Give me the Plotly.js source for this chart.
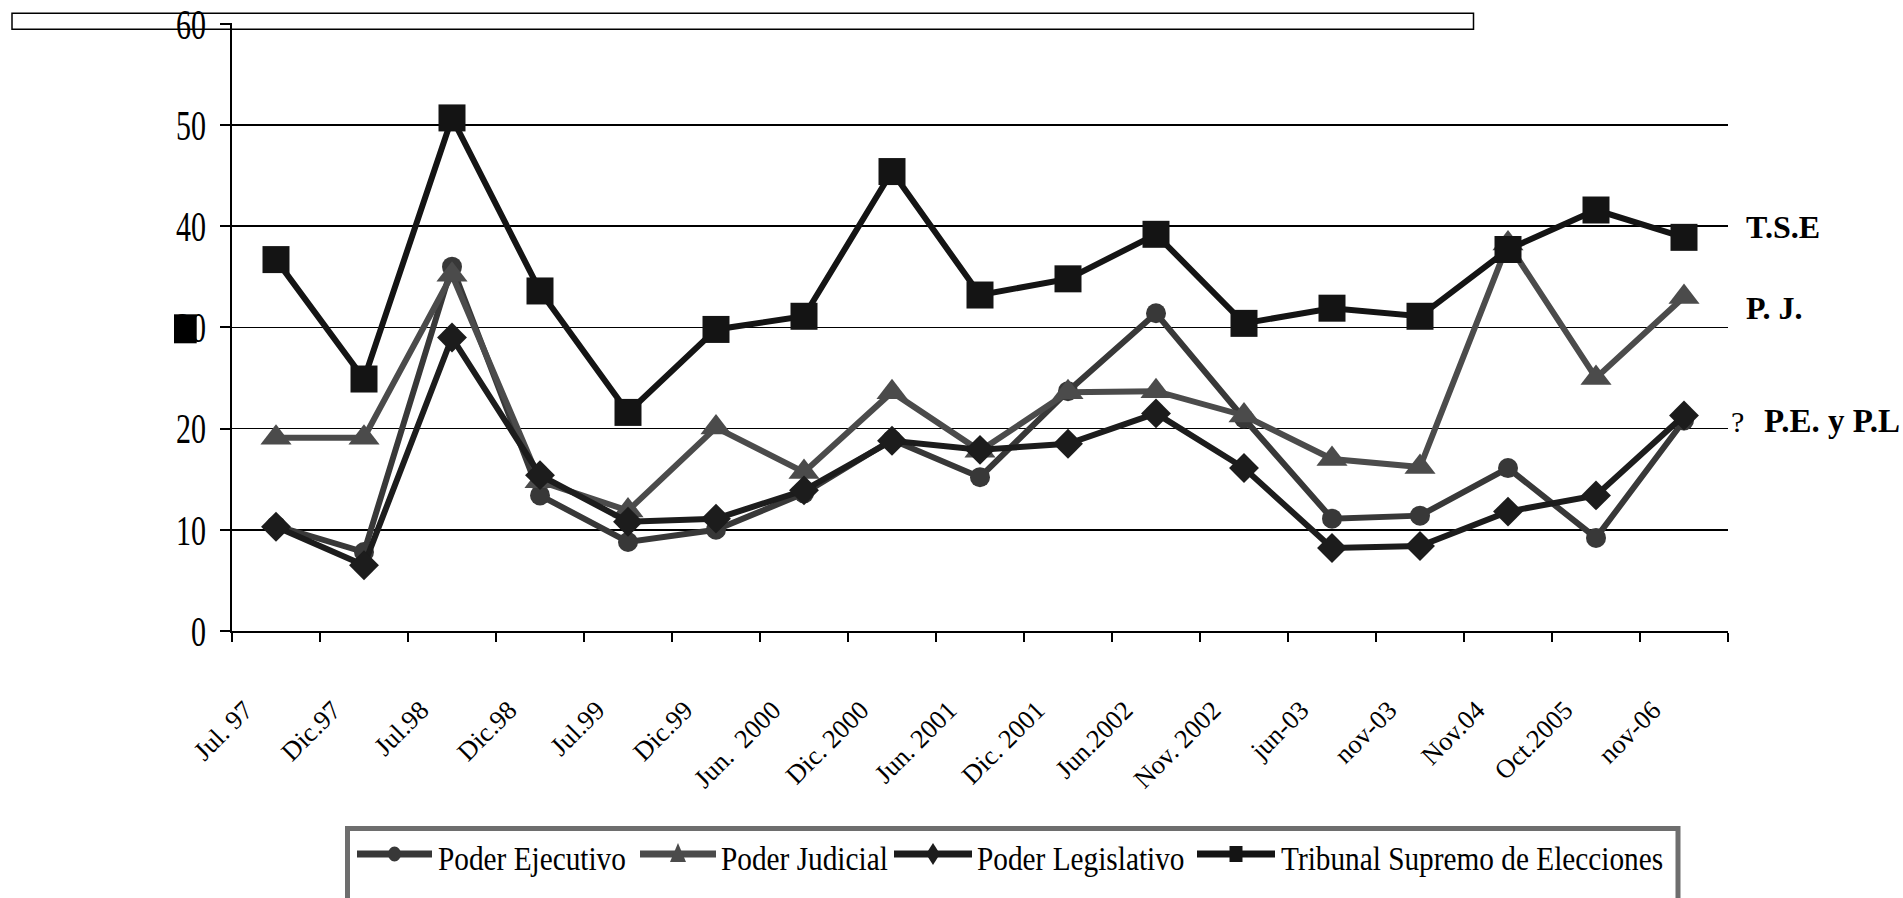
<!DOCTYPE html>
<html>
<head>
<meta charset="utf-8">
<script src="https://cdn.plot.ly/plotly-3.0.1.min.js"></script>
<style>
  html, body { margin: 0; padding: 0; background: #ffffff; }
  #chart { width: 1903px; height: 898px; }
</style>
</head>
<body>
<div id="chart"></div>
<script>
// ---- data ----
const categories = ['Jul. 97', 'Dic.97', 'Jul.98', 'Dic.98', 'Jul.99', 'Dic.99', 'Jun.  2000', 'Dic. 2000',
  'Jun. 2001', 'Dic. 2001', 'Jun.2002', 'Nov. 2002', 'jun-03', 'nov-03', 'Nov.04', 'Oct.2005', 'nov-06'];
const poderEjecutivo   = [10.4, 7.8, 36.0, 13.4, 8.8, 10.0, 13.6, 18.9, 15.2, 23.7, 31.4, 21.0, 11.1, 11.4, 16.1, 9.2, 20.8];
const poderJudicial    = [19.1, 19.1, 35.2, 14.8, 11.9, 20.1, 15.7, 23.6, 17.8, 23.6, 23.7, 21.3, 17.0, 16.2, 38.3, 25.0, 33.0];
const poderLegislativo = [10.3, 6.5, 29.0, 15.4, 10.8, 11.1, 13.9, 18.8, 17.9, 18.5, 21.5, 16.1, 8.2, 8.4, 11.8, 13.4, 21.3];
const tribunalSupremo  = [36.7, 24.9, 50.7, 33.6, 21.6, 29.8, 31.1, 45.4, 33.2, 34.8, 39.2, 30.4, 31.9, 31.1, 37.7, 41.6, 38.9];
const seriesNames = ['Poder Ejecutivo', 'Poder Judicial', 'Poder Legislativo', 'Tribunal Supremo de Elecciones'];
const yTickVals = [0, 10, 20, 30, 40, 50, 60];
const sideLabels = ['T.S.E', 'P. J.', '?', 'P.E. y P.L'];

// ---- styling ----
const SERIF = '"Liberation Serif", "Times New Roman", Times, serif';
const colors = ['#383838', '#4b4b4b', '#1c1c1c', '#141414'];
const symbols = ['circle', 'triangle-up', 'diamond', 'square'];
const msizes = [20, 27, 23, 27];

const W = 1903, H = 898;
const L = 232, R = 175, T = 23, B = 267;
const PW = W - L - R, PH = H - T - B;
const X = px => (px - L) / PW;          // pixel -> paper (x)
const Y = py => (H - B - py) / PH;      // pixel -> paper (y)

const values = [poderEjecutivo, poderJudicial, poderLegislativo, tribunalSupremo];
const traces = values.map((v, i) => ({
  type: 'scatter',
  mode: 'lines+markers',
  name: seriesNames[i],
  x: categories,
  y: v,
  line: { color: colors[i], width: 6 },
  marker: { symbol: symbols[i], size: msizes[i], color: colors[i], line: { width: 0 } },
  cliponaxis: false,
  showlegend: false
}));

// ---- legend drawn as shapes + annotations ----
const legY = 854;
const legLines = [[357, 432], [640, 716], [894, 972], [1197, 1275]];
const legText = [437, 720, 976, 1280];
const shapes = [];
// stray box at the top
shapes.push({ type: 'rect', xref: 'paper', yref: 'paper', x0: X(12), x1: X(1473.5), y0: Y(29.3), y1: Y(13.3),
  line: { color: '#000', width: 1.5 }, fillcolor: 'rgba(0,0,0,0)', layer: 'above' });
// stray black square over the 30 label
shapes.push({ type: 'rect', xref: 'paper', yref: 'paper', x0: X(174), x1: X(196.7), y0: Y(343.3), y1: Y(314.3),
  line: { width: 0 }, fillcolor: '#000', layer: 'above' });
// legend frame
shapes.push({ type: 'rect', xref: 'paper', yref: 'paper', x0: X(347.5), x1: X(1678), y0: Y(910), y1: Y(828.5),
  line: { color: '#6e6e6e', width: 5 }, fillcolor: 'rgba(0,0,0,0)', layer: 'above' });
legLines.forEach((s, i) => {
  shapes.push({ type: 'line', xref: 'paper', yref: 'paper', x0: X(s[0]), x1: X(s[1]), y0: Y(legY), y1: Y(legY),
    line: { color: colors[i], width: 7 }, layer: 'above' });
});
function pathPx(pts) {
  return 'M' + pts.map(p => X(p[0]).toFixed(6) + ',' + Y(p[1]).toFixed(6)).join('L') + 'Z';
}
const cx = legLines.map(s => (s[0] + s[1]) / 2);
shapes.push({ type: 'circle', xref: 'paper', yref: 'paper', x0: X(cx[0] - 6.5), x1: X(cx[0] + 6.5),
  y0: Y(legY + 7.5), y1: Y(legY - 7.5), line: { width: 0 }, fillcolor: colors[0], layer: 'above' });
shapes.push({ type: 'path', xref: 'paper', yref: 'paper',
  path: pathPx([[cx[1] - 8, legY + 8], [cx[1] + 8, legY + 8], [cx[1], legY - 11]]),
  line: { width: 0 }, fillcolor: colors[1], layer: 'above' });
shapes.push({ type: 'path', xref: 'paper', yref: 'paper',
  path: pathPx([[cx[2], legY - 11], [cx[2] + 7, legY], [cx[2], legY + 11], [cx[2] - 7, legY]]),
  line: { width: 0 }, fillcolor: colors[2], layer: 'above' });
shapes.push({ type: 'rect', xref: 'paper', yref: 'paper', x0: X(cx[3] - 6.5), x1: X(cx[3] + 6.5),
  y0: Y(legY + 8), y1: Y(legY - 8), line: { width: 0 }, fillcolor: colors[3], layer: 'above' });

const annotations = [];
seriesNames.forEach((n, i) => {
  annotations.push({ xref: 'paper', yref: 'paper', x: X(legText[i]), y: Y(859), xanchor: 'left', yanchor: 'middle',
    text: n, showarrow: false, font: { family: SERIF, size: 29.3, color: '#000' }, borderpad: 0 });
});
annotations.push({ xref: 'paper', yref: 'paper', x: X(1745), y: Y(227), xanchor: 'left', yanchor: 'middle',
  text: sideLabels[0], showarrow: false, font: { family: SERIF, size: 32, color: '#000', weight: 'bold' }, borderpad: 0 });
annotations.push({ xref: 'paper', yref: 'paper', x: X(1745), y: Y(308), xanchor: 'left', yanchor: 'middle',
  text: sideLabels[1], showarrow: false, font: { family: SERIF, size: 32, color: '#000', weight: 'bold' }, borderpad: 0 });
annotations.push({ xref: 'paper', yref: 'paper', x: X(1730), y: Y(421), xanchor: 'left', yanchor: 'middle',
  text: sideLabels[2], showarrow: false, font: { family: SERIF, size: 30, color: '#000' }, borderpad: 0 });
annotations.push({ xref: 'paper', yref: 'paper', x: X(1763), y: Y(421), xanchor: 'left', yanchor: 'middle',
  text: sideLabels[3], showarrow: false, font: { family: SERIF, size: 33, color: '#000', weight: 'bold' }, borderpad: 0 });

const layout = {
  width: W, height: H, autosize: false,
  margin: { l: L, r: R, t: T, b: B, pad: 0 },
  paper_bgcolor: '#ffffff', plot_bgcolor: '#ffffff',
  showlegend: false,
  font: { family: SERIF, color: '#000' },
  xaxis: {
    type: 'category', range: [-0.5, categories.length - 0.5],
    showline: true, linecolor: '#000', linewidth: 2,
    ticks: 'outside', ticklen: 9, tickwidth: 2, tickcolor: '#000', tickson: 'boundaries',
    showgrid: false, zeroline: false,
    tickangle: -45, tickfont: { family: SERIF, size: 26.5, color: '#000' },
    ticklabelstandoff: 51, ticklabelshift: -31,
    fixedrange: true
  },
  yaxis: {
    range: [0, 60.08], tickvals: yTickVals, ticktext: yTickVals.map(String),
    showline: true, linecolor: '#000', linewidth: 2,
    ticks: 'outside', ticklen: 10, tickwidth: 2, tickcolor: '#000',
    showgrid: true, gridcolor: '#000', gridwidth: 1.6, zeroline: false,
    tickfont: { family: SERIF, size: 30, color: '#000' },
    ticklabelstandoff: 8,
    fixedrange: true
  },
  shapes: shapes,
  annotations: annotations
};

// the original picture is stretched vertically: stretch the upright texts the same way
function stretchV(el, S) {
  if (el.getAttribute('data-st') && el.getAttribute('data-st') === el.getAttribute('transform')) return;
  const cur = el.getAttribute('transform') || '';
  const r = el.getBoundingClientRect();
  const m = el.parentNode.getScreenCTM();
  if (!m || r.height === 0) return;
  const cy = ((r.top + r.height / 2) - m.f) / m.d;
  const nt = 'translate(0,' + cy.toFixed(2) + ') scale(1,' + S + ') translate(0,' + (-cy).toFixed(2) + ') ' + cur;
  el.setAttribute('transform', nt);
  el.setAttribute('data-st', nt);
}
function applyStretch() {
  const gd = document.getElementById('chart');
  try {
    gd.querySelectorAll('.ytick text').forEach(t => stretchV(t, 1.4));
    const ann = gd.querySelectorAll('.annotation-text-g text');
    for (let i = 0; i < 4 && i < ann.length; i++) stretchV(ann[i], 1.15);
  } catch (e) { }
}

Plotly.newPlot('chart', traces, layout, { staticPlot: true, displayModeBar: false }).then(() => {
  applyStretch();
  setTimeout(applyStretch, 100);
});
applyStretch();
</script>
</body>
</html>
